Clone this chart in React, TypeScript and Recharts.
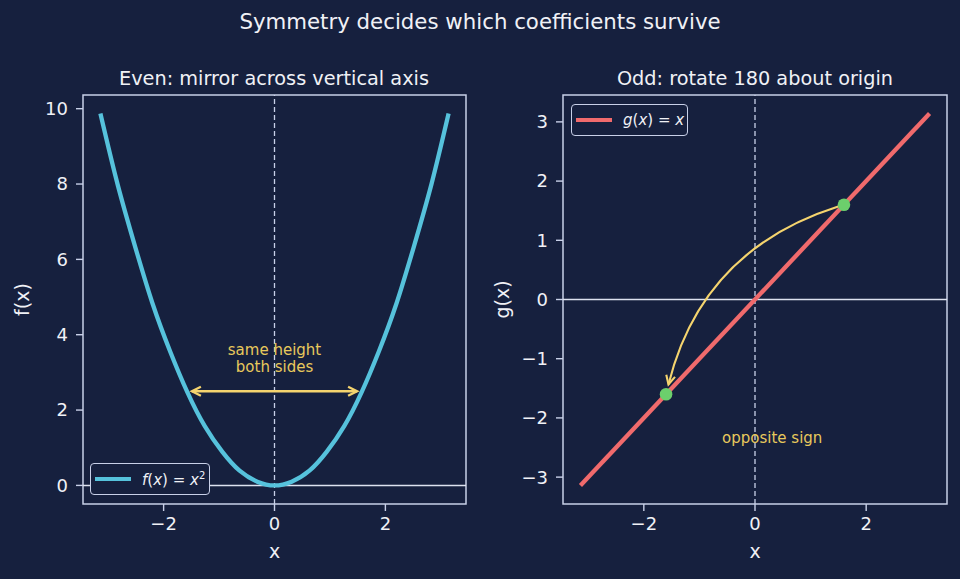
import React from "react";
import {
  ComposedChart,
  Line,
  Scatter,
  XAxis,
  YAxis,
  ReferenceLine,
  ReferenceArea,
  ReferenceDot,
} from "recharts";

// Even panel: f(x) = x^2 sampled over [-pi, pi]
const evenX = [-3.14, -2.83, -2.51, -2.2, -1.88, -1.57, -1.26, -0.94, -0.63, -0.31, 0, 0.31, 0.63, 0.94, 1.26, 1.57, 1.88, 2.2, 2.51, 2.83, 3.14];
const evenY = [9.87, 7.99, 6.32, 4.83, 3.55, 2.47, 1.58, 0.89, 0.39, 0.1, 0, 0.1, 0.39, 0.89, 1.58, 2.47, 3.55, 4.83, 6.32, 7.99, 9.87];

// Odd panel: g(x) = x
const oddX = [-3.14, 3.14];
const oddY = [-3.14, 3.14];
const markedX = [1.6, -1.6];
const markedY = [1.6, -1.6];

const xTicks = [-2, 0, 2];
const evenYTicks = [0, 2, 4, 6, 8, 10];
const oddYTicks = [-3, -2, -1, 0, 1, 2, 3];

const evenData = evenX.map((x, i) => ({ x, y: evenY[i] }));
const oddData = oddX.map((x, i) => ({ x, y: oddY[i] }));
const markedData = markedX.map((x, i) => ({ x, y: markedY[i] }));

const X_DOMAIN = [-3.454, 3.454];
const EVEN_DOMAIN = [-0.4935, 10.3635];
const ODD_DOMAIN = [-3.454, 3.454];

const BG = "#16203e";
const AXIS = "#c8d0e8";
const ZERO = "#dde2f0";
const TEXT = "#f0f1f6";
const CYAN = "#56c2dc";
const RED = "#f06a6c";
const GREEN = "#6ccf6c";
const ARROW = "#f5d46e";
const NOTE = "#e8c95c";
const FONT = "'DejaVu Sans', sans-serif";

const fmt = (v: number) => (v < 0 ? `\u2212${-v}` : `${v}`);

function head(tx: number, ty: number, dx: number, dy: number, len = 9, half = 4.5) {
  const l = Math.hypot(dx, dy) || 1;
  const ux = dx / l;
  const uy = dy / l;
  const bx = tx - ux * len;
  const by = ty - uy * len;
  return `M${bx - uy * half},${by + ux * half} L${tx},${ty} L${bx + uy * half},${by - ux * half}`;
}

const DoubleArrow = (p: any) => {
  const { x1, y1, x2, y2 } = p;
  const dir = Math.sign(x2 - x1) || 1;
  const ax = x1 + dir * 5;
  const bx = x2 - dir * 5;
  return (
    <g fill="none" stroke={ARROW} strokeWidth={2.3}>
      <line x1={ax} y1={y1} x2={bx} y2={y2} />
      <path d={head(ax, y1, -dir, 0)} />
      <path d={head(bx, y2, dir, 0)} />
    </g>
  );
};

const CurvedArrow = (p: any) => {
  const { x1, y1, x2, y2 } = p;
  const rad = 0.28;
  const mx = (x1 + x2) / 2;
  const my = (y1 + y2) / 2;
  const cx = mx - rad * (y2 - y1);
  const cy = my + rad * (x2 - x1);
  const n1 = Math.hypot(cx - x1, cy - y1) || 1;
  const n2 = Math.hypot(cx - x2, cy - y2) || 1;
  const sx = x1 + ((cx - x1) / n1) * 6;
  const sy = y1 + ((cy - y1) / n1) * 6;
  const ex = x2 + ((cx - x2) / n2) * 10;
  const ey = y2 + ((cy - y2) / n2) * 10;
  return (
    <g fill="none" stroke={ARROW} strokeWidth={2.1}>
      <path d={`M${sx},${sy} Q${cx},${cy} ${ex},${ey}`} />
      <path d={head(ex, ey, ex - cx, ey - cy)} />
    </g>
  );
};

const yLabel = (text: string) => (props: any) => {
  const vb = props.viewBox || { x: 0, y: 95, width: 83, height: 409 };
  const x = vb.x + 22;
  const y = vb.y + vb.height / 2;
  return (
    <text
      x={x}
      y={y}
      transform={`rotate(-90 ${x} ${y})`}
      textAnchor="middle"
      dominantBaseline="central"
      fill={TEXT}
      fontSize={19}
      fontFamily={FONT}
    >
      {text}
    </text>
  );
};

const noteLabel = (value: string) => ({
  value,
  position: "center" as const,
  fill: NOTE,
  fontSize: 15,
  fontFamily: FONT,
});

const dotShape = (p: any) => <circle cx={p.cx} cy={p.cy} r={6.3} fill={GREEN} />;

function LegendBox({ left, top, width, color, children }: any) {
  return (
    <div
      style={{
        position: "absolute",
        left,
        top,
        width,
        height: 32,
        boxSizing: "border-box",
        border: `1.4px solid ${AXIS}`,
        borderRadius: 4,
        background: BG,
        display: "flex",
        alignItems: "center",
        fontFamily: FONT,
        fontSize: 15,
        color: TEXT,
      }}
    >
      <div style={{ width: 36, height: 4.3, background: color, marginLeft: 4, marginRight: 11 }} />
      <span>{children}</span>
    </div>
  );
}

const axisTick = { fill: TEXT, fontSize: 18, fontFamily: FONT };

export default function App() {
  return (
    <div
      style={{
        position: "absolute",
        left: 0,
        top: 0,
        width: 960,
        height: 579,
        background: BG,
        overflow: "hidden",
        fontFamily: FONT,
      }}
    >
      <div style={{ position: "absolute", left: 0, top: 11, width: 960, textAlign: "center", fontSize: 21.3, lineHeight: 1, color: TEXT }}>
        Symmetry decides which coefficients survive
      </div>
      <div style={{ position: "absolute", left: 74, top: 69, width: 400, textAlign: "center", fontSize: 19.3, lineHeight: 1, color: TEXT }}>
        Even: mirror across vertical axis
      </div>
      <div style={{ position: "absolute", left: 555, top: 69, width: 400, textAlign: "center", fontSize: 19.3, lineHeight: 1, color: TEXT }}>
        Odd: rotate 180 about origin
      </div>

      <div style={{ position: "absolute", left: 0, top: 0 }}>
        <ComposedChart width={480} height={579} data={evenData} margin={{ top: 95, right: 14, bottom: 0, left: 0 }}>
          <XAxis
            type="number"
            dataKey="x"
            domain={X_DOMAIN}
            ticks={xTicks}
            allowDataOverflow
            axisLine={false}
            tickLine={{ stroke: AXIS, strokeWidth: 1.4 }}
            tickSize={7}
            tickMargin={6}
            tick={axisTick}
            tickFormatter={fmt}
            height={75}
            label={{ value: "x", position: "insideBottom", offset: 21, fill: TEXT, fontSize: 19, fontFamily: FONT }}
          />
          <YAxis
            type="number"
            domain={EVEN_DOMAIN}
            ticks={evenYTicks}
            allowDataOverflow
            axisLine={false}
            tickLine={{ stroke: AXIS, strokeWidth: 1.4 }}
            tickSize={7}
            tickMargin={8}
            tick={axisTick}
            tickFormatter={fmt}
            width={83}
            label={{ content: yLabel("f(x)") }}
          />
          <ReferenceLine y={0} stroke={ZERO} strokeWidth={1.5} />
          <ReferenceLine x={0} stroke={AXIS} strokeWidth={1.3} strokeDasharray="5 3" />
          <Line
            type="natural"
            dataKey="y"
            stroke={CYAN}
            strokeWidth={4.3}
            dot={false}
            isAnimationActive={false}
          />
          <ReferenceLine
            segment={[{ x: -1.58, y: 2.5 }, { x: 1.58, y: 2.5 }]}
            shape={DoubleArrow}
          />
          <ReferenceDot x={0} y={3.6} r={0} fill="none" stroke="none" label={noteLabel("same height")} />
          <ReferenceDot x={0} y={3.14} r={0} fill="none" stroke="none" label={noteLabel("both sides")} />
          <ReferenceArea
            x1={X_DOMAIN[0]}
            x2={X_DOMAIN[1]}
            y1={EVEN_DOMAIN[0]}
            y2={EVEN_DOMAIN[1]}
            fill="none"
            fillOpacity={0}
            stroke={AXIS}
            strokeWidth={1.5}
            ifOverflow="visible"
          />
        </ComposedChart>
      </div>

      <div style={{ position: "absolute", left: 480, top: 0 }}>
        <ComposedChart width={480} height={579} data={oddData} margin={{ top: 95, right: 13, bottom: 0, left: 0 }}>
          <XAxis
            type="number"
            dataKey="x"
            domain={X_DOMAIN}
            ticks={xTicks}
            allowDataOverflow
            axisLine={false}
            tickLine={{ stroke: AXIS, strokeWidth: 1.4 }}
            tickSize={7}
            tickMargin={6}
            tick={axisTick}
            tickFormatter={fmt}
            height={75}
            label={{ value: "x", position: "insideBottom", offset: 21, fill: TEXT, fontSize: 19, fontFamily: FONT }}
          />
          <YAxis
            type="number"
            domain={ODD_DOMAIN}
            ticks={oddYTicks}
            allowDataOverflow
            axisLine={false}
            tickLine={{ stroke: AXIS, strokeWidth: 1.4 }}
            tickSize={7}
            tickMargin={8}
            tick={axisTick}
            tickFormatter={fmt}
            width={83}
            label={{ content: yLabel("g(x)") }}
          />
          <ReferenceLine y={0} stroke={ZERO} strokeWidth={1.5} />
          <ReferenceLine x={0} stroke={AXIS} strokeWidth={1.3} strokeDasharray="5 3" />
          <Line
            type="linear"
            dataKey="y"
            stroke={RED}
            strokeWidth={4.3}
            dot={false}
            isAnimationActive={false}
          />
          <ReferenceLine
            segment={[
              { x: markedX[0], y: markedY[0] },
              { x: markedX[1], y: markedY[1] },
            ]}
            shape={CurvedArrow}
          />
          <Scatter data={markedData} dataKey="y" shape={dotShape} isAnimationActive={false} />
          <ReferenceDot x={0.31} y={-2.33} r={0} fill="none" stroke="none" label={noteLabel("opposite sign")} />
          <ReferenceArea
            x1={X_DOMAIN[0]}
            x2={X_DOMAIN[1]}
            y1={ODD_DOMAIN[0]}
            y2={ODD_DOMAIN[1]}
            fill="none"
            fillOpacity={0}
            stroke={AXIS}
            strokeWidth={1.5}
            ifOverflow="visible"
          />
        </ComposedChart>
      </div>

      <LegendBox left={90} top={463} width={120} color={CYAN}>
        <i>f</i>(<i>x</i>) = <i>x</i>
        <sup style={{ fontSize: 10, verticalAlign: 6 }}>2</sup>
      </LegendBox>
      <LegendBox left={571} top={104} width={117} color={RED}>
        <i>g</i>(<i>x</i>) = <i>x</i>
      </LegendBox>
    </div>
  );
}
